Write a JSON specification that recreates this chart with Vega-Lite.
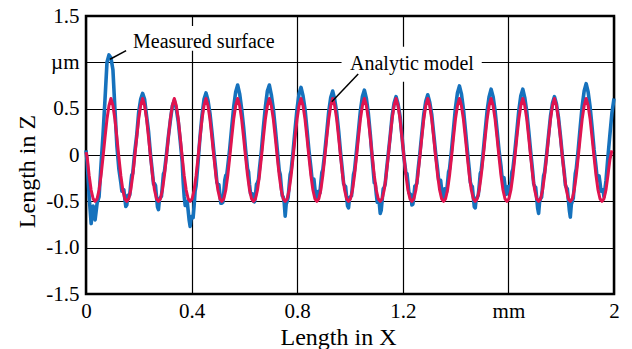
{
"$schema":"https://vega.github.io/schema/vega-lite/v6.json",
"width":528,"height":278,"autosize":"none",
"padding":{"left":86,"top":16,"right":18,"bottom":55},
"background":"white",
"config":{"font":"Liberation Serif, Times New Roman, serif","view":{"stroke":"black","strokeWidth":2.5},
"text":{"font":"Liberation Serif, Times New Roman, serif"},
"axis":{"grid":true,"gridColor":"black","gridOpacity":1,"gridWidth":1.2,"domain":false,"ticks":false,"labelFont":"Liberation Serif, Times New Roman, serif","labelFontSize":21,"labelColor":"black","titleFont":"Liberation Serif, Times New Roman, serif","titleFontSize":24,"titleFontWeight":"normal","titleColor":"black","labelFlush":false,"labelOverlap":false}},
"datasets":{
"prof":[
{"x":0,"m":0.03,"s":0.05},{"x":0.0045,"m":-0.023,"s":-0.08},{"x":0.012,"m":-0.223,"s":-0.45},{"x":0.0195,"m":-0.378,"s":-0.74},{"x":0.027,"m":-0.472,"s":-0.55},{"x":0.0345,"m":-0.5,"s":-0.7},{"x":0.042,"m":-0.472,"s":-0.52},{"x":0.0495,"m":-0.378,"s":-0.45},{"x":0.057,"m":-0.223,"s":-0.1},{"x":0.0645,"m":-0.023,"s":0.22},{"x":0.072,"m":0.188,"s":0.6},{"x":0.0795,"m":0.388,"s":1.0},{"x":0.087,"m":0.532,"s":1.08},{"x":0.0945,"m":0.61,"s":1.05},{"x":0.102,"m":0.532,"s":0.92},{"x":0.1095,"m":0.388,"s":0.5},{"x":0.117,"m":0.188,"s":0.1},{"x":0.1245,"m":-0.023,"s":-0.15},{"x":0.132,"m":-0.223,"s":-0.3},{"x":0.1395,"m":-0.378,"s":-0.38},{"x":0.147,"m":-0.472,"s":-0.47},{"x":0.1545,"m":-0.5,"s":-0.54},
{"x":0.162,"m":-0.472,"s":-0.45},{"x":0.1695,"m":-0.378,"s":-0.31},{"x":0.177,"m":-0.223,"s":-0.2},{"x":0.1845,"m":-0.023,"s":0.03},{"x":0.192,"m":0.188,"s":0.21},{"x":0.1995,"m":0.388,"s":0.46},{"x":0.207,"m":0.532,"s":0.6},{"x":0.2145,"m":0.61,"s":0.665},{"x":0.222,"m":0.532,"s":0.6},{"x":0.2295,"m":0.388,"s":0.42},{"x":0.237,"m":0.188,"s":0.25},{"x":0.2445,"m":-0.023,"s":0.0},{"x":0.252,"m":-0.223,"s":-0.2},{"x":0.2595,"m":-0.378,"s":-0.31},{"x":0.267,"m":-0.472,"s":-0.45},{"x":0.2745,"m":-0.5,"s":-0.59},
{"x":0.282,"m":-0.472,"s":-0.46},{"x":0.2895,"m":-0.378,"s":-0.33},{"x":0.297,"m":-0.223,"s":-0.18},{"x":0.3045,"m":-0.023,"s":0.0},{"x":0.312,"m":0.188,"s":0.2},{"x":0.3195,"m":0.388,"s":0.37},{"x":0.327,"m":0.532,"s":0.53},{"x":0.3345,"m":0.61,"s":0.59},{"x":0.342,"m":0.532,"s":0.5},{"x":0.3495,"m":0.388,"s":0.36},{"x":0.357,"m":0.188,"s":0.15},{"x":0.3645,"m":-0.023,"s":-0.08},{"x":0.372,"m":-0.223,"s":-0.45},{"x":0.3795,"m":-0.378,"s":-0.52},{"x":0.387,"m":-0.472,"s":-0.6},{"x":0.3945,"m":-0.5,"s":-0.77},
{"x":0.402,"m":-0.472,"s":-0.68},{"x":0.4095,"m":-0.378,"s":-0.55},{"x":0.417,"m":-0.223,"s":-0.33},{"x":0.4245,"m":-0.023,"s":-0.08},{"x":0.432,"m":0.188,"s":0.2},{"x":0.4395,"m":0.388,"s":0.43},{"x":0.447,"m":0.532,"s":0.6},{"x":0.4545,"m":0.61,"s":0.67},{"x":0.462,"m":0.532,"s":0.59},{"x":0.4695,"m":0.388,"s":0.45},{"x":0.477,"m":0.188,"s":0.25},{"x":0.4845,"m":-0.023,"s":0.03},{"x":0.492,"m":-0.223,"s":-0.17},{"x":0.4995,"m":-0.378,"s":-0.32},{"x":0.507,"m":-0.472,"s":-0.42},{"x":0.5145,"m":-0.5,"s":-0.52},
{"x":0.522,"m":-0.472,"s":-0.4},{"x":0.5295,"m":-0.378,"s":-0.22},{"x":0.537,"m":-0.223,"s":-0.12},{"x":0.5445,"m":-0.023,"s":0.07},{"x":0.552,"m":0.188,"s":0.3},{"x":0.5595,"m":0.388,"s":0.52},{"x":0.567,"m":0.532,"s":0.68},{"x":0.5745,"m":0.61,"s":0.755},{"x":0.582,"m":0.532,"s":0.66},{"x":0.5895,"m":0.388,"s":0.5},{"x":0.597,"m":0.188,"s":0.3},{"x":0.6045,"m":-0.023,"s":0.06},{"x":0.612,"m":-0.223,"s":-0.15},{"x":0.6195,"m":-0.378,"s":-0.32},{"x":0.627,"m":-0.472,"s":-0.42},{"x":0.6345,"m":-0.5,"s":-0.5},
{"x":0.642,"m":-0.472,"s":-0.43},{"x":0.6495,"m":-0.378,"s":-0.3},{"x":0.657,"m":-0.223,"s":-0.15},{"x":0.6645,"m":-0.023,"s":0.05},{"x":0.672,"m":0.188,"s":0.3},{"x":0.6795,"m":0.388,"s":0.52},{"x":0.687,"m":0.532,"s":0.69},{"x":0.6945,"m":0.61,"s":0.755},{"x":0.702,"m":0.532,"s":0.65},{"x":0.7095,"m":0.388,"s":0.5},{"x":0.717,"m":0.188,"s":0.29},{"x":0.7245,"m":-0.023,"s":0.06},{"x":0.732,"m":-0.223,"s":-0.17},{"x":0.7395,"m":-0.378,"s":-0.33},{"x":0.747,"m":-0.472,"s":-0.45},{"x":0.7545,"m":-0.5,"s":-0.66},
{"x":0.762,"m":-0.472,"s":-0.5},{"x":0.7695,"m":-0.378,"s":-0.33},{"x":0.777,"m":-0.223,"s":-0.17},{"x":0.7845,"m":-0.023,"s":0.04},{"x":0.792,"m":0.188,"s":0.28},{"x":0.7995,"m":0.388,"s":0.5},{"x":0.807,"m":0.532,"s":0.66},{"x":0.8145,"m":0.61,"s":0.73},{"x":0.822,"m":0.532,"s":0.64},{"x":0.8295,"m":0.388,"s":0.5},{"x":0.837,"m":0.188,"s":0.28},{"x":0.8445,"m":-0.023,"s":0.05},{"x":0.852,"m":-0.223,"s":-0.14},{"x":0.8595,"m":-0.378,"s":-0.26},{"x":0.867,"m":-0.472,"s":-0.36},{"x":0.8745,"m":-0.5,"s":-0.47},
{"x":0.882,"m":-0.472,"s":-0.42},{"x":0.8895,"m":-0.378,"s":-0.3},{"x":0.897,"m":-0.223,"s":-0.16},{"x":0.9045,"m":-0.023,"s":0.03},{"x":0.912,"m":0.188,"s":0.25},{"x":0.9195,"m":0.388,"s":0.47},{"x":0.927,"m":0.532,"s":0.62},{"x":0.9345,"m":0.61,"s":0.69},{"x":0.942,"m":0.532,"s":0.6},{"x":0.9495,"m":0.388,"s":0.46},{"x":0.957,"m":0.188,"s":0.26},{"x":0.9645,"m":-0.023,"s":0.02},{"x":0.972,"m":-0.223,"s":-0.19},{"x":0.9795,"m":-0.378,"s":-0.33},{"x":0.987,"m":-0.472,"s":-0.45},{"x":0.9945,"m":-0.5,"s":-0.57},
{"x":1.002,"m":-0.472,"s":-0.45},{"x":1.0095,"m":-0.378,"s":-0.33},{"x":1.017,"m":-0.223,"s":-0.17},{"x":1.0245,"m":-0.023,"s":0.04},{"x":1.032,"m":0.188,"s":0.26},{"x":1.0395,"m":0.388,"s":0.48},{"x":1.047,"m":0.532,"s":0.63},{"x":1.0545,"m":0.61,"s":0.7},{"x":1.062,"m":0.532,"s":0.61},{"x":1.0695,"m":0.388,"s":0.45},{"x":1.077,"m":0.188,"s":0.22},{"x":1.0845,"m":-0.023,"s":-0.05},{"x":1.092,"m":-0.223,"s":-0.3},{"x":1.0995,"m":-0.378,"s":-0.42},{"x":1.107,"m":-0.472,"s":-0.5},{"x":1.1145,"m":-0.5,"s":-0.63},
{"x":1.122,"m":-0.472,"s":-0.48},{"x":1.1295,"m":-0.378,"s":-0.35},{"x":1.137,"m":-0.223,"s":-0.2},{"x":1.1445,"m":-0.023,"s":0.0},{"x":1.152,"m":0.188,"s":0.2},{"x":1.1595,"m":0.388,"s":0.42},{"x":1.167,"m":0.532,"s":0.56},{"x":1.1745,"m":0.61,"s":0.63},{"x":1.182,"m":0.532,"s":0.55},{"x":1.1895,"m":0.388,"s":0.42},{"x":1.197,"m":0.188,"s":0.2},{"x":1.2045,"m":-0.023,"s":-0.03},{"x":1.212,"m":-0.223,"s":-0.2},{"x":1.2195,"m":-0.378,"s":-0.3},{"x":1.227,"m":-0.472,"s":-0.42},{"x":1.2345,"m":-0.5,"s":-0.54},
{"x":1.242,"m":-0.472,"s":-0.44},{"x":1.2495,"m":-0.378,"s":-0.33},{"x":1.257,"m":-0.223,"s":-0.18},{"x":1.2645,"m":-0.023,"s":0.01},{"x":1.272,"m":0.188,"s":0.23},{"x":1.2795,"m":0.388,"s":0.44},{"x":1.287,"m":0.532,"s":0.58},{"x":1.2945,"m":0.61,"s":0.65},{"x":1.302,"m":0.532,"s":0.57},{"x":1.3095,"m":0.388,"s":0.44},{"x":1.317,"m":0.188,"s":0.23},{"x":1.3245,"m":-0.023,"s":0.02},{"x":1.332,"m":-0.223,"s":-0.16},{"x":1.3395,"m":-0.378,"s":-0.28},{"x":1.347,"m":-0.472,"s":-0.37},{"x":1.3545,"m":-0.5,"s":-0.45},
{"x":1.362,"m":-0.472,"s":-0.4},{"x":1.3695,"m":-0.378,"s":-0.3},{"x":1.377,"m":-0.223,"s":-0.15},{"x":1.3845,"m":-0.023,"s":0.05},{"x":1.392,"m":0.188,"s":0.28},{"x":1.3995,"m":0.388,"s":0.51},{"x":1.407,"m":0.532,"s":0.67},{"x":1.4145,"m":0.61,"s":0.745},{"x":1.422,"m":0.532,"s":0.66},{"x":1.4295,"m":0.388,"s":0.5},{"x":1.437,"m":0.188,"s":0.28},{"x":1.4445,"m":-0.023,"s":0.05},{"x":1.452,"m":-0.223,"s":-0.16},{"x":1.4595,"m":-0.378,"s":-0.33},{"x":1.467,"m":-0.472,"s":-0.45},{"x":1.4745,"m":-0.5,"s":-0.57},
{"x":1.482,"m":-0.472,"s":-0.46},{"x":1.4895,"m":-0.378,"s":-0.33},{"x":1.497,"m":-0.223,"s":-0.17},{"x":1.5045,"m":-0.023,"s":0.03},{"x":1.512,"m":0.188,"s":0.26},{"x":1.5195,"m":0.388,"s":0.48},{"x":1.527,"m":0.532,"s":0.63},{"x":1.5345,"m":0.61,"s":0.71},{"x":1.542,"m":0.532,"s":0.63},{"x":1.5495,"m":0.388,"s":0.48},{"x":1.557,"m":0.188,"s":0.27},{"x":1.5645,"m":-0.023,"s":0.05},{"x":1.572,"m":-0.223,"s":-0.12},{"x":1.5795,"m":-0.378,"s":-0.26},{"x":1.587,"m":-0.472,"s":-0.33},{"x":1.5945,"m":-0.5,"s":-0.42},
{"x":1.602,"m":-0.472,"s":-0.36},{"x":1.6095,"m":-0.378,"s":-0.3},{"x":1.617,"m":-0.223,"s":-0.15},{"x":1.6245,"m":-0.023,"s":0.04},{"x":1.632,"m":0.188,"s":0.26},{"x":1.6395,"m":0.388,"s":0.48},{"x":1.647,"m":0.532,"s":0.64},{"x":1.6545,"m":0.61,"s":0.71},{"x":1.662,"m":0.532,"s":0.62},{"x":1.6695,"m":0.388,"s":0.47},{"x":1.677,"m":0.188,"s":0.26},{"x":1.6845,"m":-0.023,"s":0.03},{"x":1.692,"m":-0.223,"s":-0.18},{"x":1.6995,"m":-0.378,"s":-0.34},{"x":1.707,"m":-0.472,"s":-0.46},{"x":1.7145,"m":-0.5,"s":-0.63},
{"x":1.722,"m":-0.472,"s":-0.47},{"x":1.7295,"m":-0.378,"s":-0.34},{"x":1.737,"m":-0.223,"s":-0.19},{"x":1.7445,"m":-0.023,"s":0.0},{"x":1.752,"m":0.188,"s":0.21},{"x":1.7595,"m":0.388,"s":0.42},{"x":1.767,"m":0.532,"s":0.56},{"x":1.7745,"m":0.61,"s":0.63},{"x":1.782,"m":0.532,"s":0.55},{"x":1.7895,"m":0.388,"s":0.41},{"x":1.797,"m":0.188,"s":0.21},{"x":1.8045,"m":-0.023,"s":-0.01},{"x":1.812,"m":-0.223,"s":-0.2},{"x":1.8195,"m":-0.378,"s":-0.35},{"x":1.827,"m":-0.472,"s":-0.48},{"x":1.8345,"m":-0.5,"s":-0.67},
{"x":1.842,"m":-0.472,"s":-0.5},{"x":1.8495,"m":-0.378,"s":-0.33},{"x":1.857,"m":-0.223,"s":-0.15},{"x":1.8645,"m":-0.023,"s":0.06},{"x":1.872,"m":0.188,"s":0.3},{"x":1.8795,"m":0.388,"s":0.53},{"x":1.887,"m":0.532,"s":0.69},{"x":1.8945,"m":0.61,"s":0.77},{"x":1.902,"m":0.532,"s":0.68},{"x":1.9095,"m":0.388,"s":0.52},{"x":1.917,"m":0.188,"s":0.3},{"x":1.9245,"m":-0.023,"s":0.06},{"x":1.932,"m":-0.223,"s":-0.13},{"x":1.9395,"m":-0.378,"s":-0.25},{"x":1.947,"m":-0.472,"s":-0.3},{"x":1.9545,"m":-0.5,"s":-0.38},
{"x":1.962,"m":-0.472,"s":-0.45},{"x":1.9695,"m":-0.378,"s":-0.28},{"x":1.977,"m":-0.223,"s":-0.02},{"x":1.9845,"m":-0.05,"s":0.22},{"x":1.992,"m":0.05,"s":0.45},{"x":2.0,"s":0.61},
{"x":0.1358,"s":-0.39},{"x":0.1433,"s":-0.375},{"x":0.1508,"s":-0.555},
{"x":0.1583,"s":-0.435},{"x":0.1658,"s":-0.43},{"x":0.1733,"s":-0.215},{"x":0.2558,"s":-0.315},{"x":0.2633,"s":-0.33},{"x":0.2708,"s":-0.56},
{"x":0.2783,"s":-0.475},{"x":0.2858,"s":-0.445},{"x":0.2933,"s":-0.205},{"x":0.3683,"s":-0.3},{"x":0.3758,"s":-0.545},{"x":0.3833,"s":-0.5},{"x":0.3908,"s":-0.705},
{"x":0.3983,"s":-0.665},{"x":0.4058,"s":-0.675},{"x":0.4133,"s":-0.39},{"x":0.4958,"s":-0.295},{"x":0.5033,"s":-0.32},{"x":0.5108,"s":-0.52},
{"x":0.5183,"s":-0.51},{"x":0.5258,"s":-0.27},{"x":0.5333,"s":-0.21},{"x":0.6158,"s":-0.185},{"x":0.6233,"s":-0.42},{"x":0.6308,"s":-0.42},
{"x":0.6383,"s":-0.505},{"x":0.6458,"s":-0.315},{"x":0.6533,"s":-0.265},{"x":0.7358,"s":-0.21},{"x":0.7433,"s":-0.44},{"x":0.7508,"s":-0.515},
{"x":0.7583,"s":-0.53},{"x":0.7658,"s":-0.455},{"x":0.7733,"s":-0.21},{"x":0.8558,"s":-0.25},{"x":0.8633,"s":-0.26},{"x":0.8708,"s":-0.465},
{"x":0.8783,"s":-0.395},{"x":0.8858,"s":-0.41},{"x":0.8933,"s":-0.19},{"x":0.9758,"s":-0.31},{"x":0.9833,"s":-0.34},{"x":0.9908,"s":-0.55},
{"x":0.9983,"s":-0.46},{"x":1.0058,"s":-0.44},{"x":1.0133,"s":-0.21},{"x":1.0958,"s":-0.31},{"x":1.1033,"s":-0.51},{"x":1.1108,"s":-0.515},
{"x":1.1183,"s":-0.595},{"x":1.1258,"s":-0.365},{"x":1.1333,"s":-0.315},{"x":1.2158,"s":-0.2},{"x":1.2233,"s":-0.41},{"x":1.2308,"s":-0.43},
{"x":1.2383,"s":-0.53},{"x":1.2458,"s":-0.335},{"x":1.2533,"s":-0.305},{"x":1.3358,"s":-0.27},{"x":1.3433,"s":-0.275},{"x":1.3508,"s":-0.46},
{"x":1.3583,"s":-0.365},{"x":1.3658,"s":-0.4},{"x":1.3733,"s":-0.185},{"x":1.4558,"s":-0.295},{"x":1.4633,"s":-0.34},{"x":1.4708,"s":-0.56},
{"x":1.4783,"s":-0.465},{"x":1.4858,"s":-0.435},{"x":1.4933,"s":-0.2},{"x":1.5758,"s":-0.24},{"x":1.5833,"s":-0.245},{"x":1.5908,"s":-0.425},
{"x":1.5983,"s":-0.34},{"x":1.6058,"s":-0.38},{"x":1.6133,"s":-0.185},{"x":1.6958,"s":-0.31},{"x":1.7033,"s":-0.35},{"x":1.7108,"s":-0.575},
{"x":1.7183,"s":-0.5},{"x":1.7258,"s":-0.455},{"x":1.7333,"s":-0.225},{"x":1.8158,"s":-0.325},{"x":1.8233,"s":-0.365},{"x":1.8308,"s":-0.595},
{"x":1.8383,"s":-0.535},{"x":1.8458,"s":-0.465},{"x":1.8533,"s":-0.2},{"x":1.9358,"s":-0.24},{"x":1.9433,"s":-0.225},{"x":1.9508,"s":-0.39},{"x":1.9583,"s":-0.375}
],
"boxes":[{"x":0.148,"x2":0.746,"y":1.125,"y2":1.392},{"x":0.968,"x2":1.499,"y":0.791,"y2":1.169}],
"leaders":[{"x":0.152,"y":1.126,"x2":0.091,"y2":1.033},{"x":1.031,"y":0.874,"x2":0.931,"y2":0.575}],
"labels":[{"t":"Measured surface","x":0.178,"y":1.155},{"t":"Analytic model","x":1.0,"y":0.917}]
},
"layer":[
{"data":{"name":"boxes"},"mark":{"type":"rect","fill":"white","stroke":null},
"encoding":{
"x":{"field":"x","type":"quantitative","scale":{"domain":[0,2],"nice":false,"zero":false},
"axis":{"values":[0,0.4,0.8,1.2,1.6,2],"labelExpr":"datum.value == 1.6 ? 'mm' : datum.value == 0 ? '0' : datum.value == 2 ? '2' : format(datum.value, '.1f')","labelPadding":6,"labelFont":"Liberation Serif, Times New Roman, serif","title":"Length in X","titleX":252,"titleY":50,"titleBaseline":"alphabetic","titleAlign":"center"}},
"x2":{"field":"x2"},
"y":{"field":"y","type":"quantitative","scale":{"domain":[-1.5,1.5],"nice":false,"zero":false},
"axis":{"values":[-1.5,-1,-0.5,0,0.5,1,1.5],"labelExpr":"datum.value == 1 ? 'µm' : datum.value == 0 ? '0' : (datum.value < 0 ? '-' : '') + format(abs(datum.value), '.1f')","labelPadding":7,"labelFont":"Liberation Serif, Times New Roman, serif","title":"Length in Z","titleX":-52,"titleY":155,"titleBaseline":"alphabetic","titleAlign":"center","titleAngle":270}},
"y2":{"field":"y2"}}},
{"data":{"name":"prof"},"mark":{"type":"line","color":"#1672bd","strokeWidth":3.6,"strokeJoin":"round"},
"encoding":{"x":{"field":"x","type":"quantitative","title":"Length in X"},"y":{"field":"s","type":"quantitative","title":"Length in Z"}}},
{"data":{"name":"prof"},"transform":[{"filter":"isValid(datum.m)"}],"mark":{"type":"line","color":"#e0144f","strokeWidth":3,"strokeJoin":"round"},
"encoding":{"x":{"field":"x","type":"quantitative","title":"Length in X"},"y":{"field":"m","type":"quantitative","title":"Length in Z"}}},
{"data":{"name":"leaders"},"mark":{"type":"rule","color":"black","strokeWidth":1.5},
"encoding":{"x":{"field":"x","type":"quantitative","title":"Length in X"},"y":{"field":"y","type":"quantitative","title":"Length in Z"},"x2":{"field":"x2"},"y2":{"field":"y2"}}},
{"data":{"name":"labels"},"mark":{"type":"text","align":"left","baseline":"alphabetic","fontSize":20,"font":"Liberation Serif, Times New Roman, serif","color":"black"},
"encoding":{"x":{"field":"x","type":"quantitative","title":"Length in X"},"y":{"field":"y","type":"quantitative","title":"Length in Z"},"text":{"field":"t"}}}
]
}
